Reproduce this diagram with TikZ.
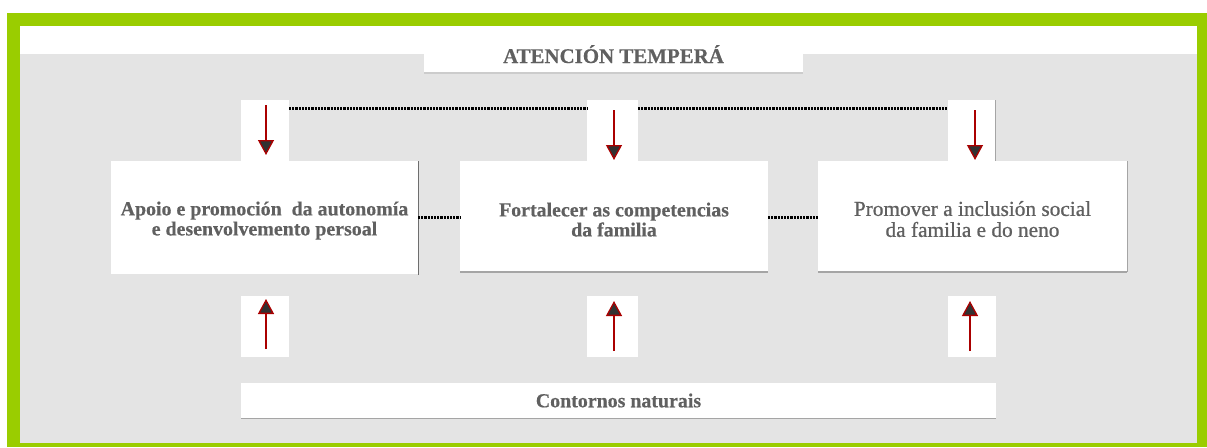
\documentclass[tikz,border=0pt]{standalone}
\usepackage{fontspec}
\setmainfont{Liberation Serif}
\newfontfamily\mainserif[BoldFeatures={FakeBold=0.4}]{Liberation Serif}
\newfontfamily\semiserif[FakeBold=0.8]{Liberation Serif}
\usetikzlibrary{arrows.meta}
\definecolor{framegreen}{RGB}{154,205,0}
\definecolor{bggray}{RGB}{228,228,228}
\definecolor{txtgray}{RGB}{96,96,96}
\definecolor{arrred}{RGB}{170,0,0}
\definecolor{headfill}{RGB}{50,50,50}
\definecolor{shadowgray}{RGB}{165,165,165}
\definecolor{darkedge}{RGB}{110,110,110}
\tikzset{
  wbox/.style={fill=white, draw=none, inner sep=0pt, outer sep=0pt, text=txtgray, align=center},
  boldtxt/.style={font=\mainserif\fontsize{19.9}{20}\selectfont\bfseries},
  regtxt/.style={font=\semiserif\fontsize{21.3}{21}\selectfont},
  arr/.style={draw=arrred, line width=1.3pt, -{Triangle[length=15pt,width=16pt,fill=headfill]}},
  dotline/.style={draw=black, line width=3pt, dash pattern=on 2.2pt off 1pt},
  shadowline/.style={draw=shadowgray, line width=1.5pt},
  edgeline/.style={draw=darkedge, line width=1pt}
}
\newcommand{\toppad}{\rule{0pt}{20pt}}
\begin{document}
\begin{tikzpicture}[x=1pt,y=-1pt]
\useasboundingbox (0,0) rectangle (1207,447);
% frame
\fill[framegreen] (7,13) rectangle (1207,447);
\fill[white] (20,26) rectangle (1197,443);
\fill[bggray] (20,54) rectangle (1197,443);

% title
\node[wbox, font=\mainserif\fontsize{20.9}{21}\selectfont\bfseries, minimum width=379pt, minimum height=47pt, text height=30pt, text depth=3pt] (T) at (613.5,49.5) {ATENCIÓN TEMPERÁ};
\draw[shadowline, draw=black!20] (T.south west) -- (T.south east);

% top arrow boxes
\node[wbox, minimum width=48pt, minimum height=61pt] (P1) at (265,130.5) {};
\node[wbox, minimum width=51pt, minimum height=61pt] (P2) at (612.5,130.5) {};
\node[wbox, minimum width=47pt, minimum height=61pt] (P3) at (971.5,130.5) {};
\draw[edgeline, draw=shadowgray] (P3.north east) -- (P3.south east);

% main boxes
\node[wbox, boldtxt, minimum width=307pt, minimum height=113pt] (A) at (264.5,217.5)
  {\toppad Apoio e promoción \ da autonomía\\e desenvolvemento persoal};
\node[wbox, boldtxt, minimum width=308pt, minimum height=111pt] (B) at (614,216.5)
  {\toppad Fortalecer as competencias\\da familia};
\node[wbox, regtxt, minimum width=309pt, minimum height=111pt] (C) at (972.5,216.5)
  {\toppad Promover a inclusión social\\da familia e do neno};
\draw[edgeline] (A.north east) -- ([yshift=-1pt]A.south east);
\draw[shadowline] (B.south west) -- (B.south east);
\draw[shadowline] (C.south west) -- (C.south east);
\draw[edgeline, draw=shadowgray] (C.north east) -- (C.south east);

% bottom arrow boxes
\node[wbox, minimum width=48pt, minimum height=61pt] (Q1) at (265,326.5) {};
\node[wbox, minimum width=51pt, minimum height=61pt] (Q2) at (612.5,326.5) {};
\node[wbox, minimum width=48pt, minimum height=61pt] (Q3) at (972,326.5) {};

% bottom box
\node[wbox, boldtxt, minimum width=755pt, minimum height=36pt] (N) at (618.5,400.5) {Contornos naturais};
\draw[shadowline] (N.south west) -- (N.south east);

% dotted connectors
\coordinate (d1) at (289,108);
\coordinate (d2) at (587,108);
\coordinate (d3) at (638,108);
\coordinate (d4) at (948,108);
\draw[dotline] (d1) -- (d2);
\draw[dotline] (d3) -- (d4);
\draw[dotline] (A.east |- 0,217) -- (B.west |- 0,217);
\draw[dotline] (B.east |- 0,217) -- (C.west |- 0,217);

% arrows down
\coordinate (a1s) at (266,105); \coordinate (a1e) at (266,155);
\coordinate (a2s) at (614,110); \coordinate (a2e) at (614,160);
\coordinate (a3s) at (975,110); \coordinate (a3e) at (975,160);
\draw[arr] (a1s) -- (a1e);
\draw[arr] (a2s) -- (a2e);
\draw[arr] (a3s) -- (a3e);
% arrows up
\coordinate (b1s) at (266,349); \coordinate (b1e) at (266,299);
\coordinate (b2s) at (614,351); \coordinate (b2e) at (614,301);
\coordinate (b3s) at (970,351); \coordinate (b3e) at (970,301);
\draw[arr] (b1s) -- (b1e);
\draw[arr] (b2s) -- (b2e);
\draw[arr] (b3s) -- (b3e);
\end{tikzpicture}
\end{document}
